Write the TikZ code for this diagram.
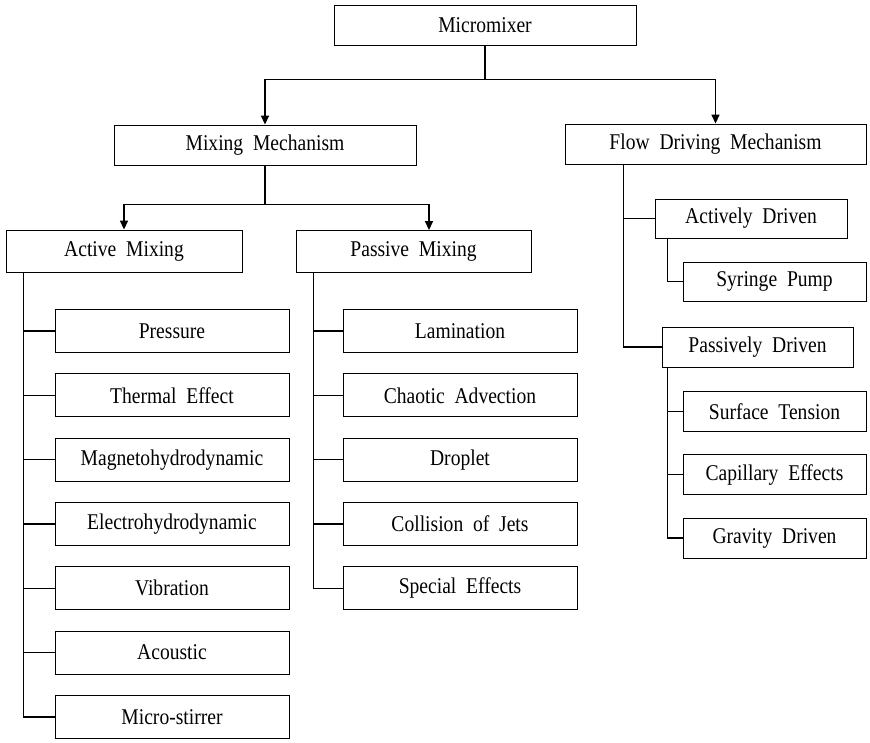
\documentclass[tikz,border=0pt]{standalone}
\usepackage{xcolor,tikz,fontspec}
\setmainfont{Liberation Serif}[WordSpace=2,FakeStretch=0.87]
\usetikzlibrary{arrows.meta,positioning,calc}
\tikzset{
  box/.style={draw,line width=.9pt,inner sep=0pt,minimum height=40pt,font=\fontsize{22.5}{26}\selectfont},
  ln/.style={line width=1.4pt},
  arr/.style={-{Triangle[length=9pt,width=8pt]},line width=1.6pt}
}
\begin{document}
\begin{tikzpicture}[x=1pt,y=-1pt]
  \useasboundingbox (0,0) rectangle (870,742);
  \node[box,minimum width=302pt] (top) at (485,25) {Micromixer};
  \node[box,minimum width=302pt] (mix) at (265,145) {Mixing Mechanism};
  \node[box,minimum width=301pt] (flow) at (715.5,144) {Flow Driving Mechanism};
  \node[box,minimum width=236pt,minimum height=42pt] (act) at (124,251) {Active Mixing};
  \node[box,minimum width=235pt,minimum height=42pt] (pas) at (413.5,251.5) {Passive Mixing};

  \draw[ln] (top.south) -- ++(0,34) coordinate (topbar);
  \draw[arr] (topbar) -| (mix.north);
  \draw[arr] (topbar) -| (flow.north);
  \draw[ln] (mix.south) -- ++(0,39) coordinate (mixbar);
  \draw[arr] (mixbar) -| (act.north);
  \draw[arr] (mixbar) -| ([xshift=15.5pt]pas.north);

  % active mixing
  \foreach \t [count=\i from 0] in {Pressure,Thermal Effect,Magnetohydrodynamic,Electrohydrodynamic,Vibration,Acoustic,Micro-stirrer}{
    \node[box,minimum width=234pt,minimum height=43pt] (a\i) at (172,331+64.33*\i) {\t};
    \draw[ln] ([xshift=18pt]act.south west) |- (a\i.west);
  }
  % passive mixing
  \foreach \t [count=\i from 0] in {Lamination,Chaotic Advection,Droplet,Collision of Jets,Special Effects}{
    \node[box,minimum width=234pt,minimum height=43pt] (p\i) at (460,331+64.33*\i) {\t};
    \draw[ln] ([xshift=18pt]pas.south west) |- (p\i.west);
  }

  % flow driving
  \node[box,minimum width=192pt,minimum height=39pt] (actd) at (751,218.5) {Actively Driven};
  \node[box,minimum width=183pt,minimum height=39pt] (syr) at (774.5,281.5) {Syringe Pump};
  \node[box,minimum width=191pt] (pasd) at (757.5,347) {Passively Driven};
  \draw[ln] ([xshift=59pt]flow.south west) |- (actd.west);
  \draw[ln] ([xshift=59pt]flow.south west) |- (pasd.west);
  \draw[ln] ([xshift=13pt]actd.south west) |- (syr.west);
  \foreach \t [count=\i from 0] in {Surface Tension,Capillary Effects,Gravity Driven}{
    \node[box,minimum width=183pt,minimum height=40pt] (d\i) at (774.5,411.5+63.25*\i) {\t};
    \draw[ln] ([xshift=6pt]pasd.south west) |- (d\i.west);
  }
\end{tikzpicture}
\end{document}
